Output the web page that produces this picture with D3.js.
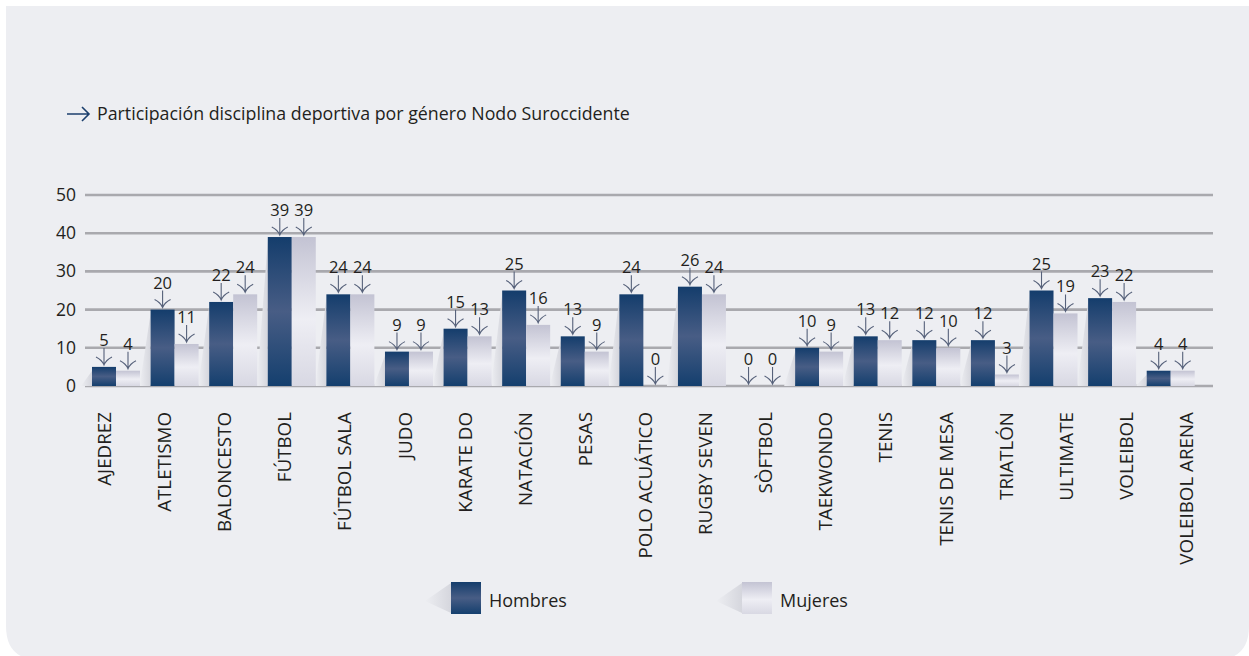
<!DOCTYPE html>
<html><head><meta charset="utf-8">
<script src="https://cdn.jsdelivr.net/npm/d3@7"></script>
<style>
html,body{margin:0;padding:0;background:#fff;}
svg{display:block;}
text{font-family:"Open Sans",sans-serif;fill:#231f20;}
</style></head>
<body>
<svg id="c" width="1249" height="656"></svg>
<script>
const categories = ["AJEDREZ","ATLETISMO","BALONCESTO","FÚTBOL","FÚTBOL SALA","JUDO","KARATE DO","NATACIÓN","PESAS","POLO ACUÁTICO","RUGBY SEVEN","SÒFTBOL","TAEKWONDO","TENIS","TENIS DE MESA","TRIATLÓN","ULTIMATE","VOLEIBOL","VOLEIBOL ARENA"];
const hombres = [5,20,22,39,24,9,15,25,13,24,26,0,10,13,12,12,25,23,4];
const mujeres = [4,11,24,39,24,9,13,16,9,0,24,0,9,12,10,3,19,22,4];
const seriesNames = ["Hombres","Mujeres"];
const yTicks = [0,10,20,30,40,50];
const title = "Participación disciplina deportiva por género Nodo Suroccidente";

const svg = d3.select("#c");
const defs = svg.append("defs");

// panel background
svg.append("path")
  .attr("d","M6,6 H1249 V626 Q1249,660 1215,660 H40 Q6,660 6,626 Z")
  .attr("fill","#edeef2");

function grad(id, stops){
  const g = defs.append("linearGradient").attr("id",id).attr("x1",0).attr("y1",0).attr("x2",0).attr("y2",1);
  stops.forEach(s=>g.append("stop").attr("offset",s[0]).attr("stop-color",s[1]));
}
grad("gH",[[0,"#143d6c"],[0.5,"#485d85"],[1,"#143f6e"]]);
grad("gM",[[0,"#c3c3d3"],[0.55,"#eeeef4"],[1,"#d8d8e3"]]);
const sg = defs.append("linearGradient").attr("id","gS").attr("x1",1).attr("y1",0).attr("x2",0).attr("y2",0);
sg.append("stop").attr("offset",0).attr("stop-color","#d5d6dd");
sg.append("stop").attr("offset",1).attr("stop-color","#edeef2");

const y = d3.scaleLinear().domain([0,50]).range([386,195]);
const xBars = d3.scaleBand().domain(categories).range([86.7,1200]).padding(0);
const xLab = d3.scaleBand().domain(categories).range([75,1217]).padding(0);

// gridlines
svg.append("g").selectAll("line").data(yTicks).join("line")
  .attr("x1",85).attr("x2",1213)
  .attr("y1",d=>y(d)).attr("y2",d=>y(d))
  .attr("stroke","#a9a9ae").attr("stroke-width",2.6);

// y tick labels
svg.append("g").selectAll("text").data(yTicks).join("text")
  .attr("x",76).attr("y",d=>y(d)+6)
  .attr("text-anchor","end").attr("font-size",17.5).text(d=>d);

// title
svg.append("path").attr("d","M67,114 H89 M82,107 L89,114 L82,121")
  .attr("stroke","#1c3f6d").attr("stroke-width",1.6).attr("fill","none");
svg.append("text").attr("x",97).attr("y",120).attr("font-size",17.8).text(title);

const bw = 24;
const data = [];
categories.forEach((c,i)=>{
  data.push({c, s:0, v:hombres[i], x: xBars(c)+xBars.bandwidth()/2 - bw});
  data.push({c, s:1, v:mujeres[i], x: xBars(c)+xBars.bandwidth()/2});
});

// shadows
svg.append("g").selectAll("path").data(data.filter(d=>d.s===0 && d.v>0)).join("path")
  .attr("d",d=>{const t=y(d.v), b=y(0); return `M${d.x},${t+4} L${d.x-11},${b} L${d.x},${b} Z`;})
  .attr("fill","url(#gS)");

// bars
svg.append("g").selectAll("rect").data(data).join("rect")
  .attr("x",d=>d.x).attr("width",bw)
  .attr("y",d=>y(d.v)).attr("height",d=>y(0)-y(d.v))
  .attr("fill",d=>d.s===0?"url(#gH)":"url(#gM)");

// arrows + value labels
const ann = svg.append("g");
data.forEach(d=>{
  const cx = d.x + bw/2, t = y(d.v) - 2;
  ann.append("path")
    .attr("d",`M${cx},${t-17} V${t} M${cx-8},${t-8} Q${cx-2},${t-5} ${cx},${t} Q${cx+2},${t-5} ${cx+8},${t-8}`)
    .attr("stroke","#56617a").attr("stroke-width",1.1).attr("fill","none");
  ann.append("text").attr("x",cx).attr("y",t-19).attr("text-anchor","middle")
    .attr("font-size",16.5).text(d.v);
});

// category labels
svg.append("g").selectAll("text").data(categories).join("text")
  .attr("transform",d=>`translate(${xLab(d)+xLab.bandwidth()/2+6},412) rotate(-90)`)
  .attr("text-anchor","end").attr("font-size",18.8).text(d=>d);

// legend
const legX = [451,742];
seriesNames.forEach((n,i)=>{
  const x0 = legX[i];
  svg.append("path").attr("d",`M${x0},583 L${x0-26},601 L${x0},613 Z`).attr("fill","url(#gS)");
  svg.append("rect").attr("x",x0).attr("y",582).attr("width",30).attr("height",32)
    .attr("fill",i===0?"url(#gH)":"url(#gM)");
  svg.append("text").attr("x",x0+38).attr("y",607).attr("font-size",18).text(n);
});
</script>
</body></html>
